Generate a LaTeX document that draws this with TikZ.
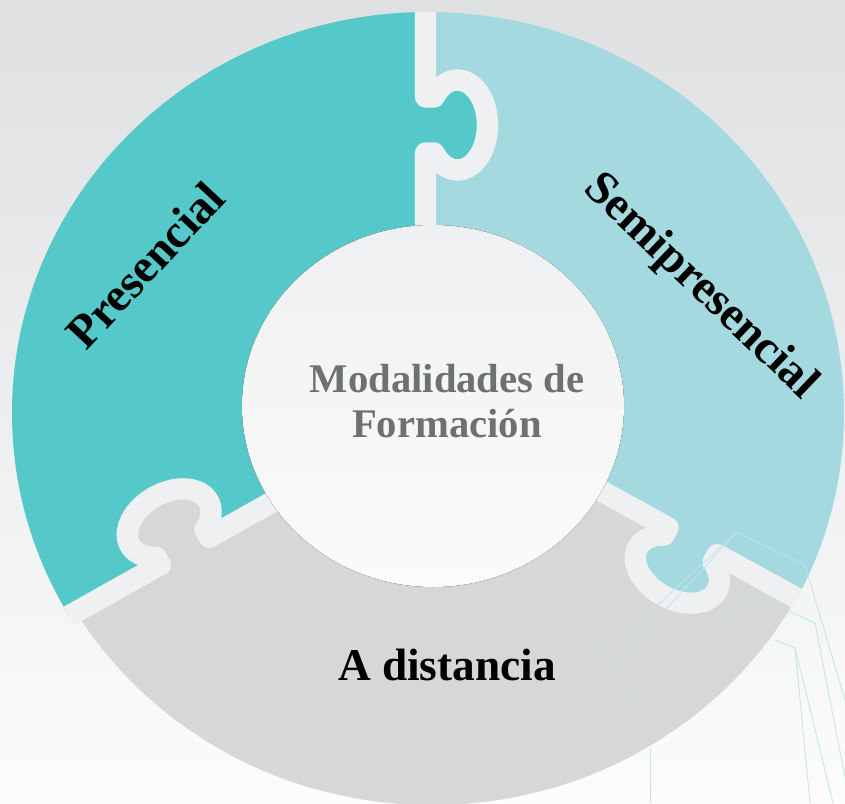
\documentclass[tikz,border=0pt]{standalone}
\usepackage{fontspec}
\setmainfont{Liberation Serif}
\definecolor{cBgTop}{HTML}{DEE0E2}
\definecolor{cBgBot}{HTML}{FCFCFC}
\definecolor{cPres}{HTML}{55C8C9}
\definecolor{cSemi}{HTML}{A4D9DF}
\definecolor{cGray}{HTML}{D7D7D8}
\definecolor{cGap}{HTML}{EFF0F1}
\definecolor{cInTop}{HTML}{EFF0F1}
\definecolor{cInBot}{HTML}{FBFBFB}
\definecolor{cMid}{HTML}{6E7174}
\definecolor{cDeco}{HTML}{BFE5EA}
\begin{document}
\def\kclip{(-900,0) -- (72,0) -- (72,8.5) arc[start angle=231.5,end angle=-51.5,x radius=45,y radius=30] -- (128,0) -- (900,0)}
\def\kstroke{(-30,0) -- (72,0) -- (72,8.5) arc[start angle=231.5,end angle=-51.5,x radius=45,y radius=30] -- (128,0) -- (300,0)}
\begin{tikzpicture}[x=0.75pt,y=-0.75pt,
  btop/.style={reset cm, shift={(319.125pt,-168.75pt)}, x={(0pt,0.75pt)}, y={(0.75pt,0pt)}},
  bleft/.style={reset cm, shift={(204pt,-376.5pt)}, x={(-0.6540pt,-0.3671pt)}, y={(-0.3671pt,0.6540pt)}},
  bright/.style={reset cm, shift={(453.75pt,-369.75pt)}, x={(0.6576pt,-0.3608pt)}, y={(-0.3608pt,-0.6576pt)}},
  pix/.style={reset cm, x=0.75pt, y=-0.75pt},
  gap/.style={draw=cGap, line width=16pt, line join=round},
  deco/.style={draw=cDeco, line width=0.6pt},
  label/.style={font=\bfseries\fontsize{35.5}{38}\selectfont, text=black, inner sep=0pt},
  midlabel/.style={font=\bfseries\fontsize{30.5}{34}\selectfont, text=cMid, inner sep=0pt, anchor=base}
]
\useasboundingbox (0,0) rectangle (845,803);
% background
\fill[top color=cBgTop, bottom color=cBgBot] (0,0) rectangle (845,803);
% Presencial piece
\begin{scope}
 \begin{scope}[btop]
  \clip \kclip -- (900,-1000) -- (-900,-1000) -- cycle;
  \begin{scope}[bleft]
   \clip \kclip -- (900,1000) -- (-900,1000) -- cycle;
   \begin{scope}[pix]
    \fill[cPres] (428,413) ellipse[x radius=416, y radius=401];
   \end{scope}
  \end{scope}
 \end{scope}
\end{scope}
% Semipresencial piece
\begin{scope}
 \begin{scope}[btop]
  \clip \kclip -- (900,1000) -- (-900,1000) -- cycle;
  \begin{scope}[bright]
   \clip \kclip -- (900,-1000) -- (-900,-1000) -- cycle;
   \begin{scope}[pix]
    \fill[cSemi] (428,413) ellipse[x radius=416, y radius=401];
   \end{scope}
  \end{scope}
 \end{scope}
\end{scope}
% A distancia piece
\begin{scope}
 \begin{scope}[bleft]
  \clip \kclip -- (900,-1000) -- (-900,-1000) -- cycle;
  \begin{scope}[bright]
   \clip \kclip -- (900,1000) -- (-900,1000) -- cycle;
   \begin{scope}[pix]
    \fill[cGray] (432,405) ellipse[x radius=416, y radius=400];
   \end{scope}
  \end{scope}
 \end{scope}
\end{scope}
% gaps
\begin{scope}
 \clip (428,413) ellipse[x radius=416, y radius=401];
 \begin{scope}[btop] \draw[gap] \kstroke; \end{scope}
\end{scope}
\begin{scope}
 \clip (428,413) ellipse[x radius=416, y radius=401] (432,405) ellipse[x radius=416, y radius=400];
 \begin{scope}[bleft] \draw[gap] \kstroke; \end{scope}
 \begin{scope}[bright] \draw[gap] \kstroke; \end{scope}
\end{scope}
% decorative lines
\draw[deco] (610,670) -- (737,532) -- (805,565) -- (845,700);
\draw[deco] (618,712) -- (752,593) -- (797,615) -- (815,623) -- (845,777);
\draw[deco] (775,640) -- (795,648) -- (810,803);
\draw[deco] (795,648) -- (833,803);
\draw[deco] (650,748) -- (650,803);
\draw[deco] (593,660) -- (605,633) -- (625,635) -- (737,532);
% centre disc
\fill[top color=cInTop, bottom color=cInBot] (433,406) ellipse[x radius=191, y radius=181];
% labels
\node[label, rotate=47] (pres) at (145,265) {Presencial};
\node[label, rotate=-43.6] (semi) at (700,287) {Semipresencial};
\node[label, font=\bfseries\fontsize{34}{36}\selectfont, anchor=base] (dist) at (447,680) {A distancia};
\node[midlabel] (mod1) at (447,392) {Modalidades de};
\node[midlabel] (mod2) at (447,437) {Formación};
\end{tikzpicture}
\end{document}
